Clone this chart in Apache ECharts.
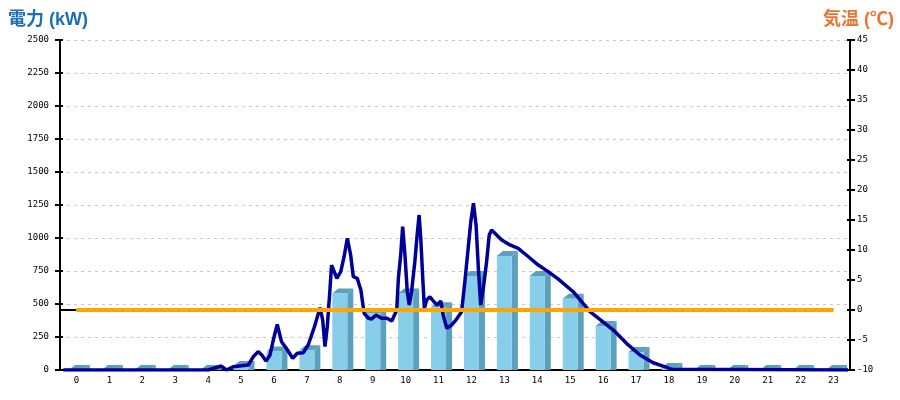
<!DOCTYPE html>
<html><head><meta charset="utf-8">
<script src="https://cdn.jsdelivr.net/npm/echarts@6/dist/echarts.min.js"></script>
<style>html,body{margin:0;padding:0;background:#fff}#c{width:900px;height:400px}</style>
</head><body><div id="c"></div>
<script>
const hours = ['0','1','2','3','4','5','6','7','8','9','10','11','12','13','14','15','16','17','18','19','20','21','22','23'];
const powerBars = [0,0,0,0,0,30,140,150,580,430,580,475,712,864,712,540,333,136,15,0,0,0,0,0];
const temperature = [0,0,0,0,0,0,0,0,0,0,0,0,0,0,0,0,0,0,0,0,0,0,0,0];
const powerLineTime = [0.1,4.5,4.9,5.06,5.26,5.72,5.87,6.02,6.13,6.26,6.38,6.48,6.6,6.73,6.89,7.07,7.21,7.39,7.54,7.73,7.9,7.98,8.05,8.12,8.2,8.25,8.41,8.53,8.63,8.73,8.83,8.91,9.03,9.14,9.24,9.37,9.47,9.6,9.77,9.93,10.08,10.23,10.28,10.35,10.41,10.48,10.55,10.61,10.68,10.78,10.85,10.91,10.96,11.02,11.07,11.14,11.24,11.36,11.46,11.57,11.64,11.75,11.9,12.05,12.2,12.3,12.4,12.48,12.56,12.64,12.71,12.78,12.86,12.96,13.04,13.11,13.42,13.67,13.92,14.23,14.53,14.83,15.14,15.59,16.1,16.4,16.81,17.21,17.62,18.02,18.43,18.58,23.94];
const powerLineKW = [0,0,30,0,25,38,100,139,114,68,114,227,346,214,159,89,127,131,189,328,472,379,177,328,606,795,695,745,858,998,871,707,695,606,430,392,386,417,392,392,371,455,695,871,1086,871,593,492,593,820,1023,1174,998,695,467,530,555,517,492,523,417,316,341,386,442,669,922,1124,1263,1099,770,492,619,820,1023,1061,985,947,922,858,795,745,689,593,442,384,303,202,114,55,20,5,0];
const stubTime = [0,0.5];
const stubTemp = [0,0];
const leftTicks = {min:0, max:2500, interval:250};
const rightTicks = {min:-10, max:45, interval:5};

const lineData = powerLineTime.map((t,i)=>[t, powerLineKW[i]]);
const barData = powerBars.map((v,i)=>[i, v]);
const stubData = stubTime.map((t,i)=>[t, stubTemp[i]]);

const chart = echarts.init(document.getElementById('c'), null, {renderer:'canvas'});
const tickFont = {fontFamily:'DejaVu Sans Mono', fontSize:9, color:'#000', formatter:function(v){return String(v);}};
const titleFont = 'Liberation Sans, Noto Sans CJK JP, sans-serif';
chart.setOption({
  animation:false,
  backgroundColor:'#fff',
  title:[
    {text:'電力 (kW)', left:3, top:6, textStyle:{color:'#1a6fb8', fontSize:18, fontWeight:'bold', fontFamily:titleFont}},
    {text:'気温 (℃)', right:1, top:6, textStyle:{color:'#eb7330', fontSize:18, fontWeight:'bold', fontFamily:titleFont}}
  ],
  grid:{left:60, right:50, top:40, bottom:30},
  xAxis:[
    {type:'category', data:hours, boundaryGap:true,
     axisLine:{lineStyle:{color:'#000', width:2}}, axisTick:{show:false},
     axisLabel:Object.assign({margin:6}, tickFont), splitLine:{show:false}},
    {type:'value', min:0, max:24, show:false}
  ],
  yAxis:[
    Object.assign({type:'value', position:'left',
     axisLine:{show:true, lineStyle:{color:'#000', width:2}},
     axisTick:{show:true, length:5, lineStyle:{color:'#000', width:2}},
     axisLabel:Object.assign({margin:11}, tickFont),
     splitLine:{show:true, lineStyle:{color:'#c8c8c8', type:[3,4], width:1}}}, leftTicks),
    Object.assign({type:'value', position:'right',
     axisLine:{show:true, lineStyle:{color:'#000', width:2}},
     axisTick:{show:true, length:5, lineStyle:{color:'#000', width:2}},
     axisLabel:Object.assign({margin:7}, tickFont),
     splitLine:{show:false}}, rightTicks),
    Object.assign({type:'value', position:'left', axisLine:{show:false},
     axisTick:{show:true, inside:true, length:3, lineStyle:{color:'#000', width:2}},
     axisLabel:{show:false}, splitLine:{show:false}}, leftTicks),
    Object.assign({type:'value', position:'right', axisLine:{show:false},
     axisTick:{show:true, inside:true, length:3, lineStyle:{color:'#000', width:2}},
     axisLabel:{show:false}, splitLine:{show:false}}, rightTicks)
  ],
  series:[
    {type:'custom', xAxisIndex:0, yAxisIndex:0, data:barData, z:2,
     encode:{x:0, y:1},
     renderItem:function(params, api){
       const top = api.coord([api.value(0), api.value(1)]);
       const base = api.coord([api.value(0), 0]);
       const w = 15, dx = 6, dy = 5;
       const x0 = top[0] - w/2;
       const front = '#87ceeb', dark = '#5ba0bd';
       return {type:'group', children:[
         {type:'polygon', shape:{points:[[x0+w, top[1]],[x0+w+dx, top[1]-dy],[x0+w+dx, base[1]],[x0+w, base[1]]]}, style:{fill:dark}},
         {type:'polygon', shape:{points:[[x0, top[1]],[x0+w, top[1]],[x0+w+dx, top[1]-dy],[x0+dx, top[1]-dy]]}, style:{fill:dark}},
         {type:'rect', shape:{x:x0, y:top[1], width:w, height:Math.max(0, base[1]-top[1])}, style:{fill:front}}
       ]};
     }},
    {type:'line', xAxisIndex:1, yAxisIndex:0, data:lineData, z:4, showSymbol:false,
     lineStyle:{color:'#000099', width:3.5}, itemStyle:{color:'#000099'}},
    {type:'line', xAxisIndex:1, yAxisIndex:1, data:stubData, z:5, showSymbol:false,
     lineStyle:{color:'#000', width:2}},
    {type:'line', xAxisIndex:0, yAxisIndex:1, data:temperature, z:6, showSymbol:false,
     lineStyle:{color:'#ffa500', width:4}, itemStyle:{color:'#ffa500'}}
  ]
});
</script></body></html>
